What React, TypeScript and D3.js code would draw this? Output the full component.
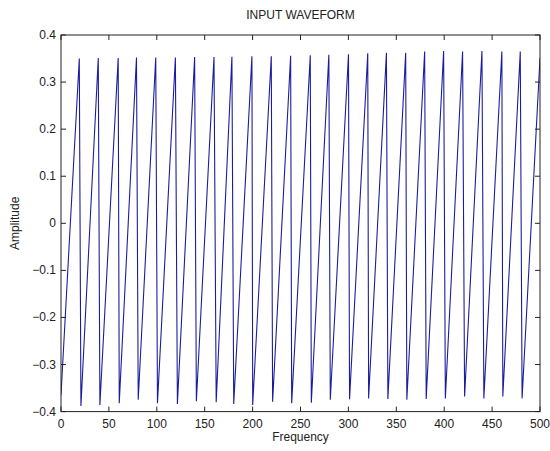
import React from "react";
import * as d3 from "d3";

const troughX = [0, 20.8, 40.6, 60.8, 80.6, 100.7, 121.5, 141.3, 162, 180.3, 200.1, 220.9, 240.8, 261.3, 281.1, 301.2, 321.1, 341.2, 361.0, 381.2, 401.2, 421.3, 441.4, 461.2, 481.3];
const troughY = [-0.365, -0.388, -0.386, -0.382, -0.375, -0.382, -0.384, -0.378, -0.38, -0.384, -0.386, -0.379, -0.382, -0.381, -0.375, -0.374, -0.372, -0.373, -0.375, -0.373, -0.372, -0.368, -0.372, -0.368, -0.372];
const peakX = [19.1, 38.9, 59.7, 78.8, 98.9, 119.4, 139.5, 159.7, 178.4, 199.3, 219.5, 239.7, 260.2, 279.6, 300.1, 320.2, 339.7, 359.8, 379.6, 399.4, 419.2, 439.4, 460.2, 479.4, 500];
const peakY = [0.35, 0.351, 0.351, 0.352, 0.352, 0.352, 0.353, 0.353, 0.354, 0.355, 0.355, 0.356, 0.357, 0.358, 0.359, 0.361, 0.362, 0.362, 0.365, 0.366, 0.365, 0.366, 0.365, 0.365, 0.351];
const xTicks = [0, 50, 100, 150, 200, 250, 300, 350, 400, 450, 500];
const yTicks = [-0.4, -0.3, -0.2, -0.1, 0, 0.1, 0.2, 0.3, 0.4];

const W = 550, H = 451;
const L = 61, R = 540, T = 35, B = 411.6;
const FONT = "Arial, 'Liberation Sans', sans-serif";

export default function App() {
  const x = d3.scaleLinear().domain([0, 500]).range([L, R]);
  const y = d3.scaleLinear().domain([-0.4, 0.4]).range([B, T]);
  const pts: [number, number][] = [];
  for (let i = 0; i < troughX.length; i++) {
    pts.push([troughX[i], troughY[i]]);
    pts.push([peakX[i], peakY[i]]);
  }
  const line = d3.line<[number, number]>().x(d => x(d[0])).y(d => y(d[1]));
  const tl = 5;
  const fmtY = (v: number) => (Math.abs(v) < 1e-9 ? "0" : d3.format(".1f")(v));
  return (
    <svg width={W} height={H} style={{ position: "absolute", left: 0, top: 0, background: "#fff" }} fontFamily={FONT}>
      <rect x={0} y={0} width={W} height={H} fill="#fff" />
      <defs>
        <clipPath id="clip"><rect x={L} y={T} width={R - L} height={B - T} /></clipPath>
      </defs>
      <path d={line(pts) || ""} fill="none" stroke="#1c1ca0" strokeWidth={1.1} clipPath="url(#clip)" />
      <rect x={L} y={T} width={R - L} height={B - T} fill="none" stroke="#222" strokeWidth={1} />
      {xTicks.map(t => (
        <g key={"x" + t}>
          <line x1={x(t)} x2={x(t)} y1={B} y2={B - tl} stroke="#222" />
          <line x1={x(t)} x2={x(t)} y1={T} y2={T + tl} stroke="#222" />
          <text x={x(t)} y={B + 16} textAnchor="middle" fontSize={12} fill="#222">{t}</text>
        </g>
      ))}
      {yTicks.map(t => (
        <g key={"y" + t}>
          <line x1={L} x2={L + tl} y1={y(t)} y2={y(t)} stroke="#222" />
          <line x1={R} x2={R - tl} y1={y(t)} y2={y(t)} stroke="#222" />
          <text x={L - 5} y={y(t) + 4} textAnchor="end" fontSize={12} fill="#222">{fmtY(t)}</text>
        </g>
      ))}
      <text x={(L + R) / 2} y={19} textAnchor="middle" fontSize={12} fill="#222">INPUT WAVEFORM</text>
      <text x={(L + R) / 2} y={441} textAnchor="middle" fontSize={12} fill="#222">Frequency</text>
      <text transform={`translate(19, ${(T + B) / 2}) rotate(-90)`} textAnchor="middle" fontSize={12} fill="#222">Amplitude</text>
    </svg>
  );
}
